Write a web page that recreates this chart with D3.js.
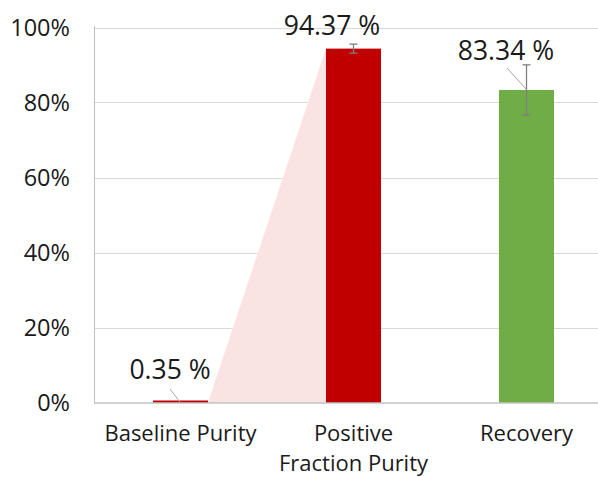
<!DOCTYPE html>
<html><head><meta charset="utf-8">
<script src="https://cdn.jsdelivr.net/npm/d3@7"></script>
<style>html,body{margin:0;padding:0;background:#fff;}svg{display:block;font-family:"Open Sans",Lato,sans-serif;}</style>
</head><body>
<svg id="c" width="598" height="477"></svg>
<script>
const categories = ["Baseline Purity", "Positive|Fraction Purity", "Recovery"];
const values = [0.35, 94.37, 83.34];
const errors = [0, 1.2, 6.7];
const barColors = ["#c00000", "#c00000", "#70ad47"];
const yTicks = [0, 20, 40, 60, 80, 100];
const valueLabels = ["0.35 %", "94.37 %", "83.34 %"];

const svg = d3.select("#c");
const x = d3.scaleBand().domain(categories).range([94, 613]).paddingInner(0.682).paddingOuter(0.341);
const y = d3.scaleLinear().domain([0, 100]).range([402.5, 27.5]);

// gridlines
svg.append("g").selectAll("line").data(yTicks.filter(d => d > 0)).join("line")
  .attr("x1", 94).attr("x2", 598)
  .attr("y1", d => Math.round(y(d)) + 0.5).attr("y2", d => Math.round(y(d)) + 0.5)
  .attr("stroke", "#d9d9d9").attr("stroke-width", 1);

// pink shaded connector
const b0 = categories[0], b1 = categories[1];
svg.append("path")
  .attr("d", `M${x(b0) + x.bandwidth()},${y(0)} L${x(b1)},${y(values[1])} L${x(b1)},${y(0)} Z`)
  .attr("fill", "#f9e3e3");

// bars
svg.append("g").selectAll("rect").data(values).join("rect")
  .attr("x", (d, i) => x(categories[i]))
  .attr("width", x.bandwidth())
  .attr("y", d => Math.min(y(d), y(0) - 2))
  .attr("height", d => Math.max(y(0) - y(d), 2))
  .attr("fill", (d, i) => barColors[i]);

// error bars
const eg = svg.append("g").attr("stroke", "#7f7f7f").attr("stroke-width", 1.3);
values.forEach((v, i) => {
  if (!errors[i]) return;
  const cx = x(categories[i]) + x.bandwidth() / 2;
  eg.append("line").attr("x1", cx).attr("x2", cx).attr("y1", y(v + errors[i])).attr("y2", y(v - errors[i]));
  [v + errors[i], v - errors[i]].forEach(e => {
    eg.append("line").attr("x1", cx - 4).attr("x2", cx + 4).attr("y1", y(e)).attr("y2", y(e));
  });
});

// axes lines
svg.append("line").attr("x1", 94.5).attr("x2", 94.5).attr("y1", 26).attr("y2", 403)
  .attr("stroke", "#bfbfbf").attr("stroke-width", 1);
svg.append("line").attr("x1", 94).attr("x2", 598).attr("y1", 403).attr("y2", 403)
  .attr("stroke", "#a6a6a6").attr("stroke-width", 1.2);

// y tick labels
svg.append("g").selectAll("text").data(yTicks).join("text")
  .attr("x", 70).attr("y", d => y(d) + 8.5)
  .attr("text-anchor", "end").attr("font-size", 23.5).attr("fill", "#1a1a1a")
  .text(d => d + "%");

// category labels
const cg = svg.append("g").attr("font-size", 22).attr("fill", "#1a1a1a").attr("text-anchor", "middle");
categories.forEach((c, i) => {
  const cx = x(c) + x.bandwidth() / 2;
  c.split("|").forEach((line, j) => {
    cg.append("text").attr("x", cx).attr("y", 440.5 + j * 30).text(line);
  });
});

// value labels with leader lines
const labelPos = [[170, 379], [332, 35], [506, 60]];
const leaders = [[170, 389, 180, 402], null, [507, 68, 526, 89]];
svg.append("g").selectAll("text").data(valueLabels).join("text")
  .attr("x", (d, i) => labelPos[i][0]).attr("y", (d, i) => labelPos[i][1])
  .attr("text-anchor", "middle").attr("font-size", 26.5).attr("fill", "#1a1a1a")
  .text(d => d);
leaders.forEach(l => {
  if (!l) return;
  svg.append("line").attr("x1", l[0]).attr("y1", l[1]).attr("x2", l[2]).attr("y2", l[3])
    .attr("stroke", "#a6a6a6").attr("stroke-width", 1);
});
</script>
</body></html>
